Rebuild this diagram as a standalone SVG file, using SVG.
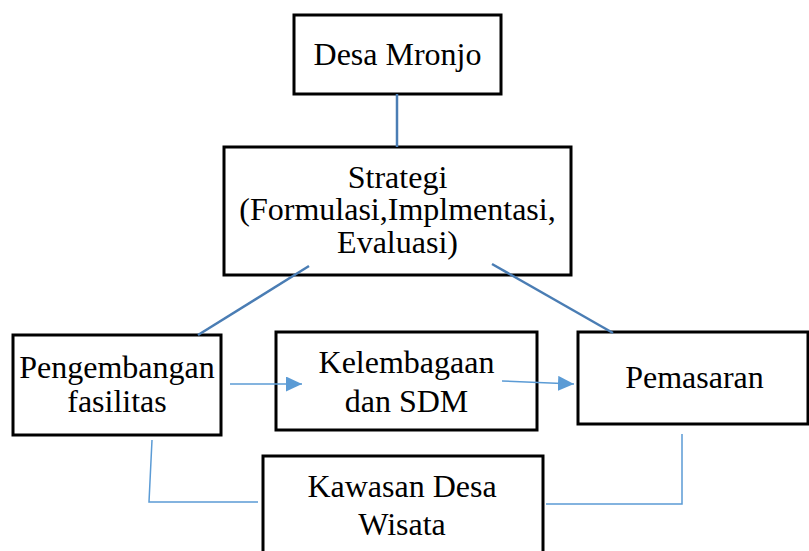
<svg xmlns="http://www.w3.org/2000/svg" width="809" height="551" viewBox="0 0 809 551">
<style>
.box{fill:#fff;stroke:#000;stroke-width:3}
.t{font-family:"Liberation Serif","Times New Roman",serif;font-size:32px;fill:#000;text-anchor:middle}
.dk{stroke:#4a7db4;stroke-width:2.5;fill:none}
.lt{stroke:#5b9bd5;stroke-width:1.5;fill:none}
</style>
<defs>
<marker id="ah" viewBox="0 0 16 15" refX="16" refY="7.5" markerWidth="16" markerHeight="15" markerUnits="userSpaceOnUse" orient="auto">
<path d="M0,0 L16,7.5 L0,15 Z" fill="#5b9bd5"/>
</marker>
</defs>
<rect width="809" height="551" fill="#fff"/>
<g id="n-desa"><rect class="box" x="294" y="15" width="207" height="79"/><text class="t" x="397.5" y="65">Desa Mronjo</text></g>
<g id="n-strategi"><rect class="box" x="224" y="147" width="347" height="128"/>
<text class="t" x="397.5" y="188">Strategi</text>
<text class="t" x="397.5" y="220">(Formulasi,Implmentasi,</text>
<text class="t" x="397.5" y="253">Evaluasi)</text></g>
<g id="n-pengembangan"><rect class="box" x="13" y="335" width="208" height="100"/>
<text class="t" x="117" y="378">Pengembangan</text>
<text class="t" x="117" y="412">fasilitas</text></g>
<g id="n-kelembagaan"><rect class="box" x="276" y="332" width="261" height="98"/>
<text class="t" x="406.5" y="373">Kelembagaan</text>
<text class="t" x="406.5" y="412">dan SDM</text></g>
<g id="n-pemasaran"><rect class="box" x="578" y="332" width="230" height="92"/>
<text class="t" x="694.5" y="388">Pemasaran</text></g>
<g id="n-kawasan"><rect class="box" x="263" y="456" width="280" height="110"/>
<text class="t" x="402" y="497">Kawasan Desa</text>
<text class="t" x="402" y="535">Wisata</text></g>
<g id="connectors">
<line class="dk" x1="397" y1="94" x2="397" y2="147"/>
<line class="dk" x1="309" y1="266" x2="198" y2="335"/>
<line class="dk" x1="492" y1="264" x2="613" y2="333"/>
<line class="lt" x1="230" y1="384" x2="302" y2="384" marker-end="url(#ah)"/>
<line class="lt" x1="502" y1="381" x2="574" y2="384" marker-end="url(#ah)"/>
<polyline class="lt" points="152,440 149,502 258,502"/>
<polyline class="lt" points="682,434 682,504 546,504"/>
</g>
</svg>
